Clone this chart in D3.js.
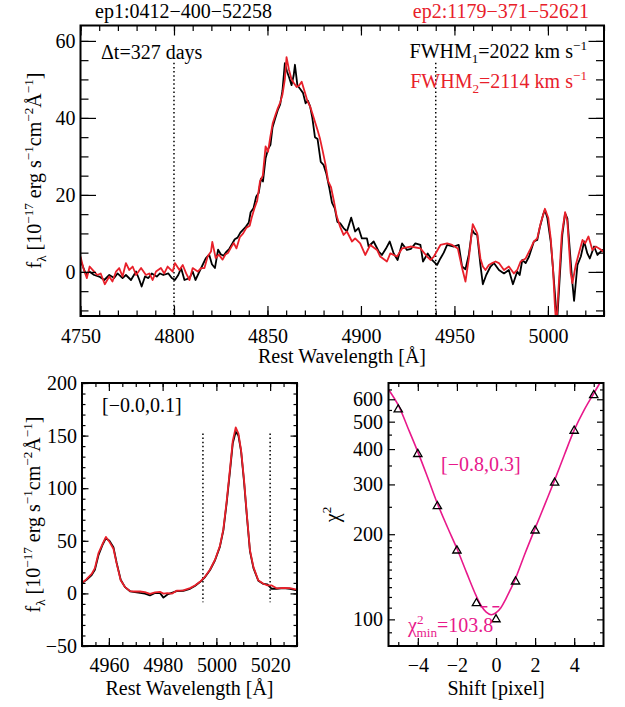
<!DOCTYPE html>
<html lang="en">
<head>
<meta charset="UTF-8">
<title>Line shift comparison</title>
<script src="https://cdn.jsdelivr.net/npm/d3@7"></script>
<style>
  body { margin: 0; background: #fff; }
</style>
</head>
<body>
<script>
// ---- data ----
// top panel: H-beta region, [wavelength, flux]
var topBlack = [[4750,2.7],[4751,1.8],[4753,-0.8],[4754.7,0.1],[4757.3,-0.8],[4760,-1.2],[4762.7,-2.1],[4765.4,-0.8],[4768,-1.6],[4769.8,-0.4],[4772.5,-1.6],[4774.3,-0.8],[4777,-2.1],[4779.7,0.1],[4781.5,-2.1],[4782.7,-3.8],[4784.5,-1.2],[4786.3,-1.6],[4788.1,-0.4],[4790.8,-1.2],[4792.5,-0.4],[4794.3,-0.8],[4797,-0.4],[4798.8,-1.6],[4800.5,-2.1],[4802.3,-0.8],[4803.8,1.0],[4805.6,-2.1],[4808.3,-1.6],[4810,0.1],[4811.5,-2.1],[4813.6,0.1],[4815.3,1.8],[4817,3.5],[4818.8,4.5],[4820.3,2.0],[4821.9,1.0],[4823.6,5.8],[4825,4.6],[4826.5,4.2],[4828,5.2],[4829.6,6.0],[4831,7.2],[4832.5,8.5],[4834,8.9],[4835.5,10.2],[4837,11.0],[4838.5,11.8],[4840,12.8],[4841,15.5],[4842.5,16.5],[4844,19.6],[4845.3,20.5],[4846.5,24.2],[4847.6,23.5],[4849,29.5],[4850.4,32.0],[4851.6,33.0],[4852.7,37.5],[4854.2,40.0],[4855.5,42.0],[4856.8,43.5],[4858,47.0],[4859.3,54.2],[4860.5,52.0],[4861.6,50.5],[4862.9,48.5],[4864,51.0],[4864.7,53.8],[4866,48.5],[4867.5,47.5],[4869,46.5],[4870.4,43.8],[4871.6,44.5],[4872.8,43.0],[4874,40.0],[4875.4,35.0],[4876.8,34.5],[4878.5,28.6],[4880,27.8],[4881.5,25.5],[4883,22.0],[4884.5,18.0],[4886,16.5],[4887.4,13.0],[4888.9,12.6],[4890.7,11.4],[4892.5,10.5],[4894.8,14.1],[4896.9,10.5],[4898.7,11.4],[4900.5,8.7],[4903.2,8.7],[4904.1,6.6],[4906.8,7.9],[4909.5,5.3],[4911.2,4.4],[4913.3,6.0],[4915.4,7.9],[4917.5,4.8],[4919.6,3.1],[4922,7.4],[4924.6,5.7],[4926.8,6.0],[4929.1,7.4],[4931.8,7.0],[4933.2,2.7],[4935.7,4.8],[4938,3.1],[4940.7,1.8],[4942.5,3.5],[4944.3,5.0],[4946.1,7.0],[4949.7,6.6],[4952.3,7.0],[4954.1,1.4],[4955.9,0.7],[4957.7,4.5],[4959.5,11.0],[4960.6,10.0],[4962.2,9.6],[4963.9,1.8],[4965.2,-3.2],[4967,-0.8],[4969.3,1.4],[4971.1,2.3],[4973.8,0.5],[4976.5,-0.4],[4979.1,0.5],[4981.3,-3.2],[4983.6,0.1],[4984.9,-0.8],[4986.3,3.1],[4988.1,2.3],[4989.9,4.0],[4992.5,7.9],[4994.3,8.3],[4995.6,11.4],[4997.4,14.8],[4998.4,16.1],[4999.7,14.0],[5001.5,7.9],[5002.7,1.0],[5004.2,-8.6],[5005.1,-11.5],[5006.3,-1.6],[5007.7,9.6],[5009.2,15.2],[5010.4,13.9],[5012.2,2.7],[5013.1,-2.9],[5014,-7.5],[5015.8,1.8],[5017.6,4.0],[5019.4,7.9],[5021.1,4.8],[5022.4,3.5],[5024.7,6.6],[5026.5,4.4],[5029.2,5.7],[5031,5.2]];

var topRed = [[4750,4.0],[4751.5,1.0],[4753.4,-1.6],[4754.9,1.4],[4757.3,0.1],[4759,-0.8],[4760.8,-0.4],[4763,-3.2],[4765.4,-1.2],[4767.1,-2.5],[4769,0.1],[4770.7,1.0],[4772.5,-1.2],[4774.3,2.3],[4776.1,0.5],[4777.9,1.4],[4779.7,-0.8],[4782.4,1.0],[4785,-0.8],[4786.8,-0.4],[4788.6,-2.1],[4790.4,0.1],[4793,1.0],[4794.8,-0.4],[4796.6,1.4],[4799.3,0.1],[4800.5,2.3],[4802.9,0.5],[4804.7,1.8],[4806.5,-0.4],[4808.3,-2.1],[4810,1.0],[4812.7,0.1],[4814.5,1.0],[4816.3,1.0],[4818,4.0],[4819.8,5.3],[4820.5,7.8],[4822.3,3.6],[4824,4.5],[4826,3.2],[4827.5,4.5],[4829,5.0],[4830.7,6.5],[4832,7.5],[4833.4,6.1],[4835.2,9.0],[4837,10.0],[4838.8,11.5],[4840.5,12.0],[4841.5,14.0],[4843,16.5],[4844.5,18.5],[4846,23.5],[4847.5,25.0],[4849,32.6],[4850.3,31.2],[4851.5,35.0],[4852.8,38.6],[4854.3,40.8],[4855.5,42.5],[4856.8,44.0],[4858,46.0],[4859.3,50.0],[4860.2,55.8],[4861.5,52.5],[4862.9,50.0],[4864.2,49.0],[4865.6,48.0],[4867,48.5],[4868.3,49.4],[4869.8,47.0],[4871.3,44.5],[4872.8,43.0],[4874,41.2],[4875.4,39.0],[4876.7,37.0],[4878,34.8],[4879.5,31.5],[4881,28.0],[4882.5,23.5],[4884,22.0],[4885.5,18.5],[4887,14.5],[4888.9,11.7],[4890.7,9.6],[4892.5,10.5],[4895.2,7.9],[4896.9,8.7],[4899.6,7.4],[4902.3,4.4],[4905,7.0],[4908.6,5.7],[4910.3,4.0],[4913.9,2.7],[4915.7,4.8],[4919.3,4.0],[4922,6.1],[4926.5,6.6],[4931.8,6.1],[4935.4,4.0],[4937.2,3.1],[4939,4.0],[4942.5,7.0],[4946.1,7.4],[4948.8,7.0],[4951.8,6.1],[4954.1,1.0],[4955.9,-2.5],[4957.7,3.5],[4959.8,12.4],[4962.2,10.0],[4963.9,3.5],[4965.2,1.4],[4966.6,0.5],[4968.4,1.8],[4970.2,2.3],[4972,2.7],[4973.8,2.3],[4976.5,0.5],[4979.1,1.4],[4981.8,-0.4],[4983.6,0.5],[4985.4,2.7],[4988.1,3.5],[4990.8,6.1],[4992.5,7.9],[4994.3,8.7],[4996.1,12.6],[4998.4,16.4],[5000.2,14.0],[5001.5,8.7],[5002.7,1.0],[5003.8,-9.4],[5004.5,-14],[5005.9,-2.5],[5007.4,9.6],[5009.2,15.5],[5010.4,13.1],[5012.2,-0.4],[5013.1,-2.9],[5014.9,1.8],[5018.5,8.3],[5019.9,7.4],[5021.7,9.2],[5023.8,5.7],[5025.6,6.6],[5027.4,6.1],[5030,5.2]];

// bottom-left: [OIII] region, [wavelength, flux]
var oiiiBlack = [[4949.3,8.6],[4951.7,13],[4953.6,17.5],[4954.8,22.5],[4956.1,36],[4957.7,46.5],[4958.9,52.5],[4960.2,50],[4961.7,44],[4962.9,29],[4964.4,13],[4966,6],[4967.9,2],[4969.7,1.3],[4971.6,0.4],[4973.4,-0.2],[4975.3,-1.9],[4977.2,0.4],[4979,0.5],[4980.3,-4],[4981.8,-1],[4983.4,0.5],[4985.2,2.2],[4987.7,2.5],[4990.2,4.4],[4992,7],[4993.9,10.8],[4995.8,15.6],[4997.6,22],[4999.5,31.5],[5001.3,44.2],[5002.6,60],[5003.8,85.4],[5005.1,117],[5006.1,142.6],[5007.2,153.7],[5008.2,150],[5009.2,135],[5010.3,106],[5011.3,75],[5012.5,40],[5013.8,24],[5015.6,12],[5017.5,9],[5019,8.6],[5020.6,4.4],[5022.4,4.4],[5024.9,5.0],[5027.4,4.4],[5030,2.9]];

var oiiiRed = [[4949.3,8.6],[4951.7,13.5],[4953.6,18.5],[4954.8,24],[4956.1,38],[4957.7,47.3],[4958.9,53.7],[4960.2,49],[4961.7,42.5],[4962.9,28.3],[4964.4,12.4],[4966,6],[4967.9,2.2],[4969.7,1.8],[4971.6,1.8],[4973.4,1.2],[4975.3,-0.5],[4977.2,1.0],[4979,1.5],[4980.3,-0.2],[4981.8,0.3],[4983.4,-0.3],[4985.2,2.5],[4987.7,2.8],[4990.2,5.0],[4992,7.5],[4993.9,11],[4995.8,16],[4997.6,22.5],[4999.5,32],[5001.3,45],[5002.6,61],[5003.8,87],[5005.1,119],[5006.1,145],[5007.2,157.8],[5008.2,152],[5009.2,136],[5010.3,107.6],[5011.3,75.9],[5012.5,41],[5013.8,25],[5015.6,12.4],[5017.5,9.2],[5019,7.6],[5020.6,7.6],[5022.4,4.8],[5024.9,5.2],[5027.4,5.0],[5030,3.5]];

// bottom-right: chi^2 vs pixel shift
var shifts = [-5, -4, -3, -2, -1, 0, 1, 2, 3, 4, 5];
var chi2 = [552, 384, 251, 175, 114, 100, 136, 206, 304, 464, 620];
var fitShift = [-5.5,-5,-4.5,-4,-3.5,-3,-2.5,-2,-1.5,-1,-0.75,-0.5,-0.25,0,0.25,0.5,0.75,1,1.5,2,2.5,3,3.5,4,4.5,5,5.5];
var fitChi2  = [650,572,474,391,318,257,213,178,146,120.5,111.5,106,103.8,105.5,110,118,128,139.6,172,209.7,255,310.6,382,466.6,548,629,720];
var chiRange = [-0.8, 0.3], chiLevel = 110.8;

// window edges (dotted) : [wavelength, ytop, ybottom]
var topCuts  = [[4800, 54.3, -11.5], [4940, 54.3, -11.5]];
var oiiiCuts = [[4995, 152, -8.3], [5020, 152, -8.3]];

var RED = "#e8202a", PINK = "#e8198b";
var FONT = "'Liberation Serif', 'Times New Roman', Times, 'DejaVu Serif', serif";

// ---- helpers ----
var svg = d3.select("body").append("svg").attr("width", 625).attr("height", 707)
  .attr("font-family", FONT);
var nclip = 0;

function makePanel(left, top, w, h, xdom, y) {
  var g = svg.append("g").attr("transform", "translate(" + left + "," + top + ")");
  var x = d3.scaleLinear().domain(xdom).range([0, w]);
  y.range([h, 0]);
  var id = "clip" + (nclip++);
  g.append("clipPath").attr("id", id).append("rect").attr("width", w).attr("height", h);
  var plot = g.append("g").attr("clip-path", "url(#" + id + ")");
  return {g: g, plot: plot, x: x, y: y, w: w, h: h};
}

// IDL-like box: inward ticks on all four sides
function drawAxes(p, o) {
  function put(axis, tr) {
    var a = p.g.append("g").attr("transform", tr).call(axis);
    a.select(".domain").remove();
    a.attr("font-family", FONT).attr("font-size", 20);
    a.selectAll("line").attr("stroke", "#000").attr("stroke-width", 1.2);
    a.selectAll("text").attr("fill", "#000");
    return a;
  }
  var none = function() { return ""; };
  put(d3.axisBottom(p.x).tickValues(o.xMaj).tickSize(-o.xLen[0]).tickPadding(o.xPad).tickFormat(o.xFmt), "translate(0," + p.h + ")");
  put(d3.axisBottom(p.x).tickValues(o.xMin).tickSize(-o.xLen[1]).tickFormat(none), "translate(0," + p.h + ")");
  put(d3.axisTop(p.x).tickValues(o.xMaj).tickSize(-o.xLen[0]).tickFormat(none), "translate(0,0)");
  put(d3.axisTop(p.x).tickValues(o.xMin).tickSize(-o.xLen[1]).tickFormat(none), "translate(0,0)");
  put(d3.axisLeft(p.y).tickValues(o.yMaj).tickSize(-o.yLen[0]).tickPadding(o.yPad).tickFormat(o.yFmt), "translate(0,0)");
  put(d3.axisLeft(p.y).tickValues(o.yMin).tickSize(-o.yLen[1]).tickFormat(none), "translate(0,0)");
  put(d3.axisRight(p.y).tickValues(o.yMaj).tickSize(-o.yLen[0]).tickFormat(none), "translate(" + p.w + ",0)");
  put(d3.axisRight(p.y).tickValues(o.yMin).tickSize(-o.yLen[1]).tickFormat(none), "translate(" + p.w + ",0)");
  p.g.append("rect").attr("width", p.w).attr("height", p.h)
    .attr("fill", "none").attr("stroke", "#000").attr("stroke-width", 2);
}

// text with sub/superscripts: parts = [[str, mode, dx]]
function rich(t, parts, size) {
  var cur = 0;
  parts.forEach(function(pt) {
    var m = pt[1] || "";
    var target = m === "sup" ? -0.42 * size : (m === "sub" ? 0.26 * size : 0);
    var s = t.append("tspan").attr("dy", target - cur)
      .attr("font-size", m ? 0.66 * size : size).text(pt[0]);
    if (pt[2]) s.attr("dx", pt[2]);
    cur = target;
  });
  return t;
}

function label(x, y, parts, opt) {
  opt = opt || {};
  var t = svg.append("text").attr("x", x).attr("y", y).attr("font-size", opt.size || 20)
    .attr("fill", opt.fill || "#000").attr("text-anchor", opt.anchor || "start");
  if (opt.rotate) t.attr("x", null).attr("y", null)
    .attr("transform", "translate(" + x + "," + y + ") rotate(-90)");
  return rich(t, parts, opt.size || 20);
}

function spectrum(p, data, color) {
  var line = d3.line().x(function(d) { return p.x(d[0]); }).y(function(d) { return p.y(d[1]); });
  p.plot.append("path").datum(data).attr("d", line)
    .attr("fill", "none").attr("stroke", color).attr("stroke-width", 1.8)
    .attr("stroke-linejoin", "round");
}

function cuts(p, list) {
  p.plot.selectAll(null).data(list).enter().append("line")
    .attr("x1", function(d) { return p.x(d[0]); }).attr("x2", function(d) { return p.x(d[0]); })
    .attr("y1", function(d) { return p.y(d[1]); }).attr("y2", function(d) { return p.y(d[2]); })
    .attr("stroke", "#000").attr("stroke-width", 1.5).attr("stroke-dasharray", "1.5,2.6");
}

var fluxLabel = [["f"], ["\u03bb", "sub"], [" [10"], ["\u221217", "sup"], [" erg s"], ["\u22121", "sup"],
                 ["cm"], ["\u22122", "sup"], ["\u00c5"], ["\u22121", "sup"], ["]"]];

// ---- top panel ----
var hb = makePanel(80.5, 25.5, 523.5, 290.5, [4750, 5030], d3.scaleLinear().domain([-11.45, 64]));
cuts(hb, topCuts);
spectrum(hb, topBlack, "#000");
spectrum(hb, topRed, RED);
drawAxes(hb, {
  xMaj: d3.range(4750, 5031, 50), xMin: d3.range(4750, 5031, 10), xLen: [10, 5.5], xPad: 12.8, xFmt: d3.format("d"),
  yMaj: [0, 20, 40, 60], yMin: d3.range(-10, 64, 5), yLen: [15.5, 8], yPad: 5, yFmt: d3.format("d")
});
label(342, 363, [["Rest Wavelength [\u00c5]"]], {anchor: "middle"});
label(41, 170.5, fluxLabel, {anchor: "middle", rotate: true});
label(95, 17.5, [["ep1:0412\u2212400\u221252258"]]);
label(589, 17.5, [["ep2:1179\u2212371\u221252621"]], {anchor: "end", fill: RED});
label(101, 58.5, [["\u0394t=327 days"]]);
label(587, 58, [["FWHM"], ["1", "sub"], ["=2022 km s"], ["\u22121", "sup"]], {anchor: "end"});
label(587, 88, [["FWHM"], ["2", "sub"], ["=2114 km s"], ["\u22121", "sup"]], {anchor: "end", fill: RED});

// ---- bottom-left panel ----
var oiii = makePanel(82, 383, 215, 263, [4950, 5030], d3.scaleLinear().domain([-50, 200]));
cuts(oiii, oiiiCuts);
spectrum(oiii, oiiiBlack, "#000");
spectrum(oiii, oiiiRed, RED);
drawAxes(oiii, {
  xMaj: [4960, 4980, 5000, 5020], xMin: d3.range(4950, 5031, 5), xLen: [8, 4], xPad: 12, xFmt: d3.format("d"),
  yMaj: [-50, 0, 50, 100, 150, 200], yMin: d3.range(-50, 201, 10), yLen: [6.5, 3.5], yPad: 5, yFmt: d3.format("d")
});
label(189.5, 695, [["Rest Wavelength [\u00c5]"]], {anchor: "middle"});
label(40, 514.5, fluxLabel, {anchor: "middle", rotate: true});
label(102, 412, [["[\u22120.0,0.1]"]]);

// ---- bottom-right panel ----
var chi = makePanel(388.5, 383, 215, 263, [-5.5, 5.5], d3.scaleLog().domain([80.5, 685]));
var fitLine = d3.line().curve(d3.curveCatmullRom)
  .x(function(d, i) { return chi.x(fitShift[i]); }).y(function(d) { return chi.y(d); });
chi.plot.append("path").datum(fitChi2).attr("d", fitLine)
  .attr("fill", "none").attr("stroke", PINK).attr("stroke-width", 1.6);
chi.plot.append("line")
  .attr("x1", chi.x(chiRange[0])).attr("x2", chi.x(chiRange[1]))
  .attr("y1", chi.y(chiLevel)).attr("y2", chi.y(chiLevel))
  .attr("stroke", PINK).attr("stroke-width", 1.3).attr("stroke-dasharray", "7,5");
chi.plot.selectAll(null).data(chi2).enter().append("path")
  .attr("d", d3.symbol(d3.symbolTriangle, 30))
  .attr("transform", function(d, i) { return "translate(" + chi.x(shifts[i]) + "," + chi.y(d) + ")"; })
  .attr("fill", "none").attr("stroke", "#000").attr("stroke-width", 1.3);
drawAxes(chi, {
  xMaj: [-4, -2, 0, 2, 4], xMin: d3.range(-5, 6, 1), xLen: [8, 4], xPad: 12, xFmt: d3.format("d"),
  yMaj: [100, 200, 300, 400, 500, 600],
  yMin: [90, 110, 120, 130, 140, 150, 160, 170, 180, 190, 250, 350, 450, 550, 650],
  yLen: [6.5, 3.5], yPad: 5.5, yFmt: d3.format("d")
});
label(496, 695, [["Shift [pixel]"]], {anchor: "middle"});
label(339, 514.5, [["\u03c7"], ["2", "sup"]], {anchor: "middle", rotate: true});
label(441, 471, [["[\u22120.8,0.3]"]], {fill: PINK});
label(408, 632, [["\u03c7"], ["2", "sup"], ["min", "sub", -7], ["=103.8"]], {fill: PINK});
</script>
</body>
</html>
